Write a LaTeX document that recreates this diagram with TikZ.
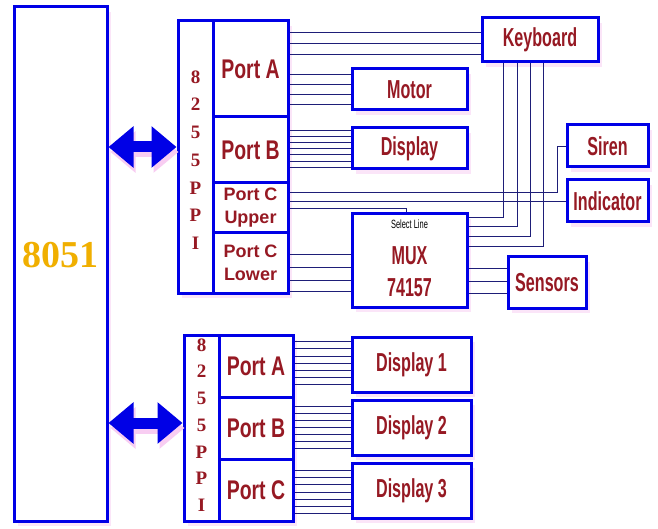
\documentclass[tikz,border=0pt]{standalone}
\usepackage{fontspec}
\usetikzlibrary{arrows.meta,shadows}
\newfontfamily\peripfont[FakeStretch=0.62]{Liberation Sans}
\newfontfamily\portfont[FakeStretch=0.72]{Liberation Sans}
\newfontfamily\subportfont[FakeStretch=1.0]{Liberation Sans}
\newfontfamily\chipfont{Liberation Serif}
\definecolor{BoxBlue}{RGB}{0,0,230}
\definecolor{WireBlue}{RGB}{30,30,120}
\definecolor{TextRed}{RGB}{150,25,35}
\definecolor{McuGold}{RGB}{240,175,0}
\definecolor{GlowPink}{RGB}{248,205,242}

\begin{document}
\begin{tikzpicture}[x=1pt,y=-1pt,
box/.style={rectangle,draw=BoxBlue,line width=3pt,fill=white,inner sep=0pt,
  drop shadow={shadow xshift=4pt,shadow yshift=-5pt,fill=GlowPink}},
port/.style={rectangle,draw=BoxBlue,line width=3pt,fill=white,inner sep=0pt,
  text=TextRed,font=\portfont\bfseries\fontsize{27}{30}\selectfont},
subport/.style={port,align=center,font=\subportfont\bfseries\fontsize{18}{23}\selectfont},
perip/.style={box,text=TextRed,font=\peripfont\bfseries\fontsize{26}{30}\selectfont},
chipletter/.style={text=TextRed,font=\chipfont\bfseries\fontsize{19}{19}\selectfont},
wire/.style={draw=WireBlue,line width=0.9pt},
bus/.style={line width=11pt,draw=BoxBlue,
  {Triangle[width=40pt,length=25pt]}-{Triangle[width=40pt,length=25pt]}}
]
\useasboundingbox (0,0) rectangle (658,529);
\fill[white] (0,0) rectangle (658,529);

% microcontroller
\node[box,minimum width=93pt,minimum height=514pt] (mcu) at (60.5,264) {};
\node[text=McuGold,font=\chipfont\bfseries\fontsize{38}{38}\selectfont] (mcutext) at (60.5,255) {8051};

% first 8255
\node[box,minimum width=110pt,minimum height=272pt] (ppi1) at (233,157) {};
\node[port,minimum width=75pt,minimum height=96pt] (pa1) at (250.5,69) {Port A};
\node[port,minimum width=75pt,minimum height=66pt] (pb1) at (250.5,150) {Port B};
\node[subport,minimum width=75pt,minimum height=50pt] (pcu) at (250.5,208) {Port C\\Upper};
\node[subport,minimum width=75pt,minimum height=60pt] (pcl) at (250.5,263) {Port C\\Lower};
\foreach \ch [count=\i] in {8,2,5,5,P,P,I}
  \node[chipletter] (ltra\i) at (195.5,49.3+27.7*\i) {\ch};

% second 8255
\node[box,minimum width=109pt,minimum height=186pt] (ppi2) at (238.5,428) {};
\node[port,minimum width=74pt,minimum height=62pt] (pa2) at (256,366) {Port A};
\node[port,minimum width=74pt,minimum height=62pt] (pb2) at (256,428) {Port B};
\node[port,minimum width=74pt,minimum height=62pt] (pc2) at (256,490) {Port C};
\foreach \ch [count=\i] in {8,2,5,5,P,P,I}
  \node[chipletter] (ltrb\i) at (201.5,318.3+26.7*\i) {\ch};

% peripherals
\node[perip,minimum width=116pt,minimum height=44pt] (kbd) at (540,40) {Keyboard};
\node[perip,minimum width=115pt,minimum height=41pt] (motor) at (409.5,89.5) {Motor};
\node[perip,minimum width=115pt,minimum height=41pt] (disp) at (409.5,148.5) {Display};
\node[perip,minimum width=81pt,minimum height=42pt] (siren) at (607.5,146) {Siren};
\node[perip,minimum width=81pt,minimum height=42pt] (ind) at (607.5,201) {Indicator};
\node[perip,minimum width=115pt,minimum height=93pt,align=center] (mux) at (409.5,260.5) {};
\node[text=TextRed,font=\peripfont\bfseries\fontsize{26}{30}\selectfont,align=center] (muxtext) at (409.5,272) {MUX\\[2pt]74157};
\node[font=\peripfont\fontsize{12}{12}\selectfont] (sellbl) at (409.5,224) {Select Line};
\node[perip,minimum width=78pt,minimum height=51pt] (sens) at (547,282.5) {Sensors};
\node[perip,minimum width=119pt,minimum height=55pt] (dsp1) at (411.5,364.5) {Display 1};
\node[perip,minimum width=119pt,minimum height=55pt] (dsp2) at (411.5,427.5) {Display 2};
\node[perip,minimum width=119pt,minimum height=55pt] (dsp3) at (411.5,490.5) {Display 3};

% buses to the 8051
\draw[bus,draw=GlowPink,transform canvas={xshift=2pt,yshift=-5pt}] (mcu.east |- 0,147) -- (ppi1.west |- 0,147);
\draw[bus,draw=GlowPink,transform canvas={xshift=2pt,yshift=-5pt}] (mcu.east |- 0,423) -- (ppi2.west |- 0,423);
\draw[bus] (mcu.east |- 0,147) -- (ppi1.west |- 0,147);
\draw[bus] (mcu.east |- 0,423) -- (ppi2.west |- 0,423);

% port lines
\foreach \y in {32,43,54} \draw[wire] (pa1.east |- 0,\y) -- (kbd.west |- 0,\y);
\foreach \y in {74,84,94,104} \draw[wire] (pa1.east |- 0,\y) -- (motor.west |- 0,\y);
\foreach \y in {130,136,142,148,154,161,167} \draw[wire] (pb1.east |- 0,\y) -- (disp.west |- 0,\y);
\coordinate (sbend) at (557,146);
\draw[wire] (pcu.east |- 0,192) -| (sbend) -- (siren.west);
\draw[wire] (pcu.east |- ind.west) -- (ind.west);
\coordinate (selpt) at (406,0);
\draw[wire] (pcu.east |- 0,208) -| (mux.north -| selpt);
\foreach \y in {254,267,280,291} \draw[wire] (pcl.east |- 0,\y) -- (mux.west |- 0,\y);
\foreach \x/\y in {503/217,517/226,530/236,543/246}
  \draw[wire] (kbd.south -| \x,0) |- (mux.east |- 0,\y);
\foreach \y in {268,281,293} \draw[wire] (mux.east |- 0,\y) -- (sens.west |- 0,\y);
\foreach \y in {341,348,356,363,370,377,384} \draw[wire] (pa2.east |- 0,\y) -- (dsp1.west |- 0,\y);
\foreach \y in {406,413,420,427,434,441,448} \draw[wire] (pb2.east |- 0,\y) -- (dsp2.west |- 0,\y);
\foreach \y in {470,477,484,492,499,506,513} \draw[wire] (pc2.east |- 0,\y) -- (dsp3.west |- 0,\y);
\end{tikzpicture}
\end{document}
